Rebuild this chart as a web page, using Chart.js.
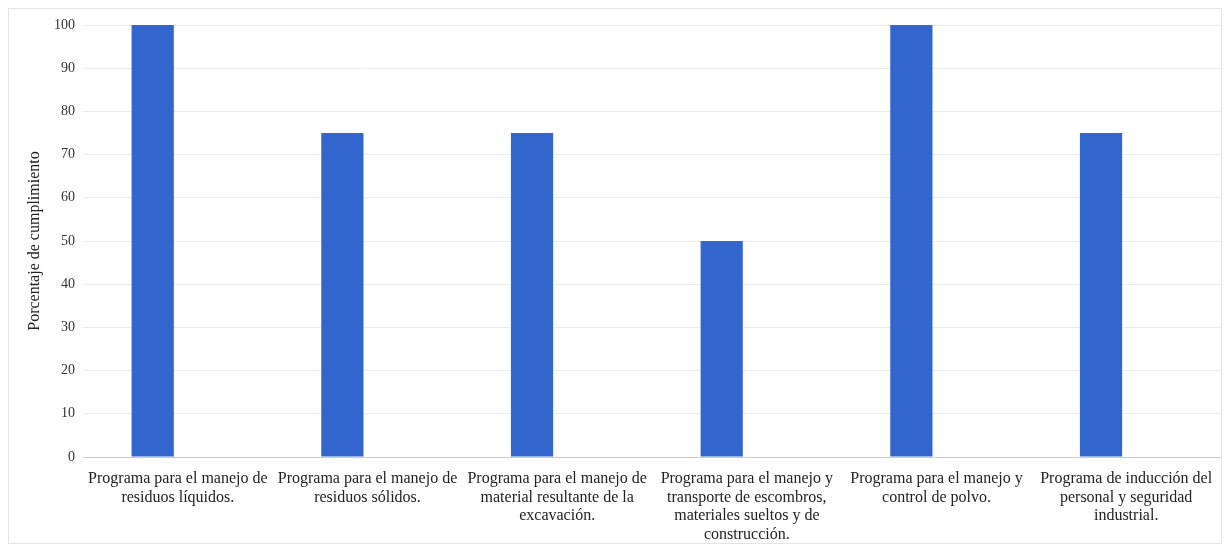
<!DOCTYPE html>
<html>
<head>
<meta charset="utf-8">
<script src="https://cdn.jsdelivr.net/npm/chart.js@4/dist/chart.umd.min.js"></script>
<style>
html,body{margin:0;padding:0;background:#fff;}
#wrap{position:relative;width:1231px;height:548px;}
#frame{position:absolute;left:8px;top:8px;width:1214px;height:536px;border:1px solid #e4e4e4;box-sizing:border-box;pointer-events:none;}
canvas{position:absolute;left:0;top:0;}
</style>
</head>
<body>
<div id="wrap">
<canvas id="c" width="1231" height="548"></canvas>
<div id="frame"></div>
</div>
<script>
const categories = [
  ["Programa para el manejo de", "residuos líquidos."],
  ["Programa para el manejo de", "residuos sólidos."],
  ["Programa para el manejo de", "material resultante de la", "excavación."],
  ["Programa para el manejo y", "transporte de escombros,", "materiales sueltos y de", "construcción."],
  ["Programa para el manejo y", "control de polvo."],
  ["Programa de inducción del", "personal y seguridad", "industrial."]
];
const cumplimiento = [100, 75, 75, 50, 100, 75];
const emptySeries = [null, null, null, null, null, null];
const yTitle = "Porcentaje de cumplimiento";

new Chart(document.getElementById('c'), {
  type: 'bar',
  data: {
    labels: categories,
    datasets: [
      { label: 'Cumplimiento', data: cumplimiento, backgroundColor: '#3366cc', borderWidth: 0 },
      { label: '', data: emptySeries, backgroundColor: 'rgba(0,0,0,0)' }
    ]
  },
  options: {
    responsive: false,
    animation: false,
    categoryPercentage: 0.53,
    barPercentage: 0.84,
    layout: { padding: { left: 10, right: 10, top: 25, bottom: 0 } },
    plugins: { legend: { display: false }, tooltip: { enabled: false } },
    scales: {
      x: {
        grid: { display: false, drawTicks: false },
        border: { display: true, color: '#cccccc' },
        ticks: {
          autoSkip: false, maxRotation: 0, minRotation: 0, padding: 13,
          color: '#222', font: { family: 'Liberation Serif', size: 16, lineHeight: 1.15 }
        },
        afterFit: s => { s.height = 548 - 457; }
      },
      y: {
        min: 0, max: 100,
        ticks: { stepSize: 10, padding: 8, color: '#333', font: { family: 'Liberation Serif', size: 14 } },
        grid: { color: c => c.tick.value === 0 ? '#cccccc' : '#ebebeb', drawTicks: false },
        border: { display: false },
        title: { display: true, text: yTitle, color: '#222', font: { family: 'Liberation Serif', size: 16 }, padding: { top: 15, bottom: 0 } },
        afterFit: s => { s.width = 73; }
      }
    }
  }
});
</script>
</body>
</html>
